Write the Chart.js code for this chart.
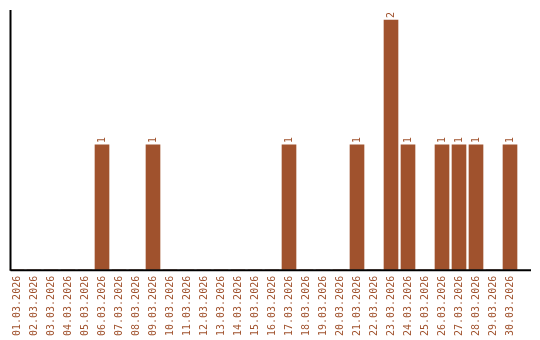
<!DOCTYPE html>
<html>
<head>
<meta charset="utf-8">
<script src="https://cdn.jsdelivr.net/npm/chart.js@4"></script>
<style>
  html, body { margin: 0; padding: 0; background: #fff; }
  #wrap { width: 540px; height: 340px; }
</style>
</head>
<body>
<div id="wrap"><canvas id="chart"></canvas></div>
<script>
// data
const days = [
  '01.03.2026', '02.03.2026', '03.03.2026', '04.03.2026', '05.03.2026',
  '06.03.2026', '07.03.2026', '08.03.2026', '09.03.2026', '10.03.2026',
  '11.03.2026', '12.03.2026', '13.03.2026', '14.03.2026', '15.03.2026',
  '16.03.2026', '17.03.2026', '18.03.2026', '19.03.2026', '20.03.2026',
  '21.03.2026', '22.03.2026', '23.03.2026', '24.03.2026', '25.03.2026',
  '26.03.2026', '27.03.2026', '28.03.2026', '29.03.2026', '30.03.2026'
];
const counts = [
  0, 0, 0, 0, 0, 1, 0, 0, 1, 0,
  0, 0, 0, 0, 0, 0, 1, 0, 0, 0,
  1, 0, 2, 1, 0, 1, 1, 1, 0, 1
];

const brown = '#a0522d';
const monoFont = { family: '"DejaVu Sans Mono", monospace', size: 10 };

// axis lines (reach a bit past the category band like the original)
const axisLines = {
  id: 'axisLines',
  afterDraw(chart) {
    const { ctx, chartArea } = chart;
    ctx.save();
    ctx.strokeStyle = '#000';
    ctx.lineWidth = 2;
    ctx.beginPath();
    ctx.moveTo(10.5, chartArea.top);
    ctx.lineTo(10.5, chartArea.bottom + 1);
    ctx.moveTo(10.5, chartArea.bottom + 0.5);
    ctx.lineTo(531, chartArea.bottom + 0.5);
    ctx.stroke();
    ctx.restore();
  }
};

// value labels above bars, rotated
const valueLabels = {
  id: 'valueLabels',
  afterDatasetsDraw(chart) {
    const { ctx } = chart;
    const meta = chart.getDatasetMeta(0);
    ctx.save();
    ctx.fillStyle = brown;
    ctx.font = '10px "DejaVu Sans Mono", monospace';
    ctx.textAlign = 'left';
    ctx.textBaseline = 'middle';
    meta.data.forEach((bar, i) => {
      if (!counts[i]) return;
      ctx.save();
      ctx.translate(bar.x, bar.y - 2);
      ctx.rotate(-Math.PI / 2);
      ctx.fillText(String(counts[i]), 0, 0);
      ctx.restore();
    });
    ctx.restore();
  }
};

new Chart(document.getElementById('chart'), {
  type: 'bar',
  data: {
    labels: days,
    datasets: [{
      data: counts,
      backgroundColor: brown,
      borderWidth: 0,
      barThickness: 14
    }]
  },
  options: {
    responsive: true,
    maintainAspectRatio: false,
    animation: false,
    layout: { padding: { left: 8.5, right: 21.5, top: 10, bottom: -2 } },
    plugins: {
      legend: { display: false },
      tooltip: { enabled: false }
    },
    scales: {
      x: {
        grid: { display: false, drawTicks: false },
        border: { display: false },
        ticks: {
          color: brown,
          font: monoFont,
          minRotation: 90,
          maxRotation: 90,
          autoSkip: false,
          padding: 6
        }
      },
      y: {
        display: false,
        min: 0,
        max: 2.08
      }
    }
  },
  plugins: [axisLines, valueLabels]
});
</script>
</body>
</html>
